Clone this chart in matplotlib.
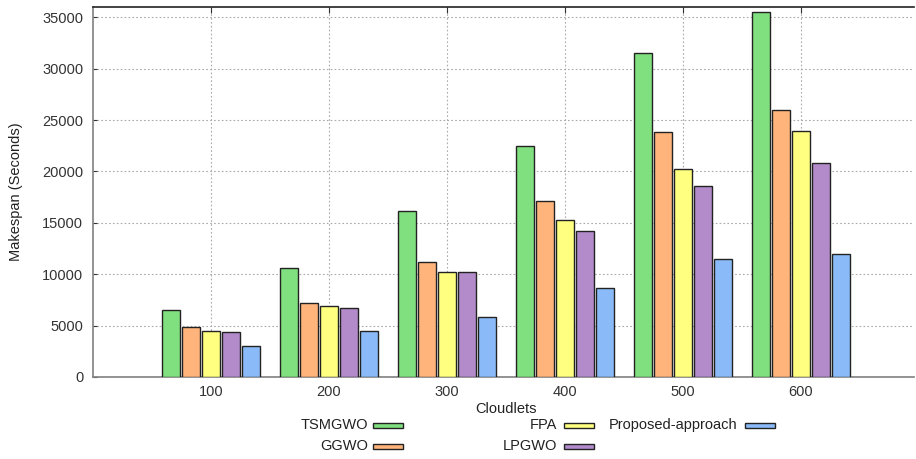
import numpy as np
import matplotlib.pyplot as plt
from matplotlib.patches import Rectangle

plt.rcParams["font.family"] = ["Liberation Sans", "DejaVu Sans"]

cloudlets = ["100", "200", "300", "400", "500", "600"]
names = ["TSMGWO", "GGWO", "FPA", "LPGWO", "Proposed-approach"]
colors = ["#80e080", "#ffb47c", "#ffff80", "#b38bca", "#8abbf8"]

tsmgwo = [6500, 10600, 16200, 22500, 31500, 35500]
ggwo = [4900, 7200, 11200, 17100, 23800, 26000]
fpa = [4500, 6900, 10200, 15300, 20200, 23900]
lpgwo = [4400, 6700, 10200, 14200, 18600, 20800]
proposed = [3000, 4500, 5800, 8700, 11500, 12000]
series = [tsmgwo, ggwo, fpa, lpgwo, proposed]

W, H = 916, 459
fig = plt.figure(figsize=(W / 100, H / 100), dpi=100)
ax = fig.add_axes([93 / W, 1 - 377 / H, (914 - 93) / W, (377 - 7) / H])

x = np.arange(1, len(cloudlets) + 1)
stride = 20 / 118
width = 18 / 118
for i, (vals, c) in enumerate(zip(series, colors)):
    ax.bar(x + (i - 2) * stride, vals, width, color=c, edgecolor="#222222",
           linewidth=1.0, zorder=3)

ax.set_xlim(0, (914 - 93) / 118)
ax.set_ylim(0, 36000)
ax.set_xticks(x)
ax.set_xticklabels(cloudlets)
ax.set_yticks(range(0, 35001, 5000))
ax.tick_params(axis="both", direction="in", labelsize=10.5, colors="#333333",
               length=3)
ax.tick_params(axis="x", top=True, bottom=False, length=4, pad=6)
ax.tick_params(axis="y", pad=7)
ax.grid(True, linestyle=(0, (1.5, 2)), color="#aaaaaa", linewidth=0.8, zorder=0)

ax.spines["right"].set_visible(False)
ax.spines["top"].set_color("#222222")
ax.spines["left"].set_color("#808080")
ax.spines["bottom"].set_color("#808080")
for s in ax.spines.values():
    s.set_linewidth(1.2)

ax.set_ylabel("Makespan (Seconds)", fontsize=10.5, color="#222222", labelpad=14)
fig.text(506 / W, 1 - 409 / H, "Cloudlets", ha="center", va="center",
         fontsize=10.5, color="#222222")

# legend drawn gnuplot-style: text right-aligned before the swatch
text_right = [368, 368, 557, 557, 737]
sw_left = [373, 373, 564, 564, 745]
row_y = [425, 446, 425, 446, 425]
for name, c, tr, sl, ry in zip(names, colors, text_right, sw_left, row_y):
    fig.text(tr / W, 1 - ry / H, name, ha="right", va="center",
             fontsize=10.5, color="#222222")
    fig.patches.append(Rectangle((sl / W, 1 - (ry + 3) / H), 30 / W, 5 / H,
                                 transform=fig.transFigure, facecolor=c,
                                 edgecolor="#222222", linewidth=1.0))

fig.savefig("out.png", dpi=100)
